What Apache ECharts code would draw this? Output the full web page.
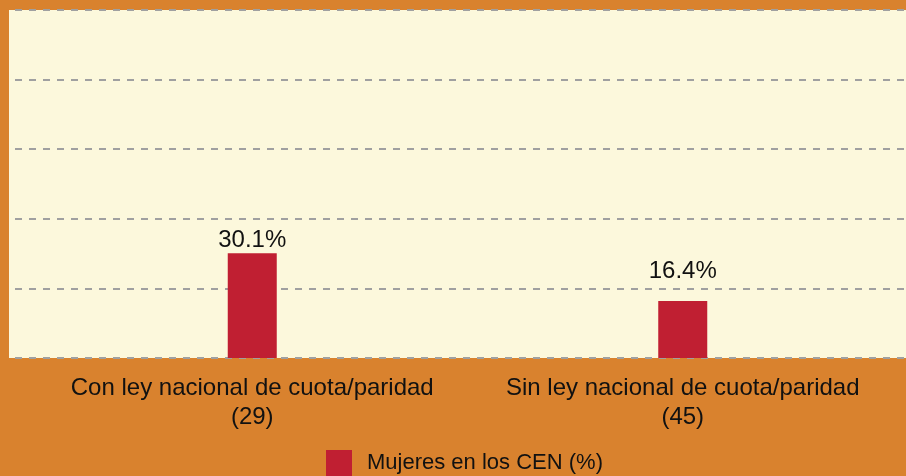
<!DOCTYPE html>
<html lang="es">

<head>
  <meta charset="UTF-8">
  <title>Mujeres en los CEN</title>
  <script src="https://cdn.jsdelivr.net/npm/echarts@6/dist/echarts.min.js"></script>
  <style>
    body { margin: 0; background: #d9822e; }
  </style>
</head>

<body>
  <div id="chart" style="width: 906px;height: 476px;"></div>
  <script>
    // datos
    const categories = ['Con ley nacional de cuota/paridad\n(29)', 'Sin ley nacional de cuota/paridad\n(45)']
    const mujeresCEN = [30.1, 16.4]
    const seriesName = 'Mujeres en los CEN (%)'

    const myChart = echarts.init(document.getElementById('chart'))

    const font = 'Liberation Sans, Arial, sans-serif'

    const option = {
      backgroundColor: '#d9822e',
      textStyle: { fontFamily: font },
      grid: [
        // fondo crema y lineas guia
        { left: 9, right: 0, top: 10, bottom: 118, show: true, backgroundColor: '#fcf8dc', borderWidth: 0 },
        // barras
        { left: 37, right: 8, top: 10, bottom: 118 }
      ],
      legend: {
        top: 450,
        left: 326,
        padding: 0,
        icon: 'rect',
        itemWidth: 26,
        itemHeight: 26,
        textStyle: { fontSize: 22, color: '#111', fontFamily: font, padding: [5, 0, 0, 10] },
        data: [seriesName]
      },
      xAxis: [
        { gridIndex: 0, type: 'value', show: false, min: 0, max: 1 },
        {
          gridIndex: 1,
          type: 'category',
          data: categories,
          axisLine: { show: false },
          axisTick: { show: false },
          axisLabel: {
            interval: 0,
            margin: 16,
            fontSize: 24,
            lineHeight: 29,
            color: '#111',
            fontFamily: font
          }
        }
      ],
      yAxis: [
        {
          gridIndex: 0,
          type: 'value',
          min: 0,
          max: 100,
          interval: 20,
          axisLine: { show: false },
          axisTick: { show: false },
          axisLabel: { show: false },
          splitLine: {
            lineStyle: { color: '#a0a0a0', width: 2, type: [7, 7], dashOffset: 8 }
          }
        },
        {
          gridIndex: 1,
          type: 'value',
          min: 0,
          max: 100,
          interval: 20,
          show: false,
          splitLine: { show: false }
        }
      ],
      series: [
        {
          name: seriesName,
          type: 'bar',
          xAxisIndex: 1,
          yAxisIndex: 1,
          barWidth: 49,
          itemStyle: { color: '#c01f32' },
          label: {
            show: true,
            position: 'top',
            distance: 1,
            fontSize: 24,
            color: '#111',
            fontFamily: font,
            formatter: p => p.value.toFixed(1) + '%'
          },
          // la etiqueta de la segunda barra va por encima de la linea guia
          data: [
            mujeresCEN[0],
            { value: mujeresCEN[1], label: { distance: 18 } }
          ]
        }
      ]
    }

    myChart.setOption(option)
  </script>
</body>

</html>
